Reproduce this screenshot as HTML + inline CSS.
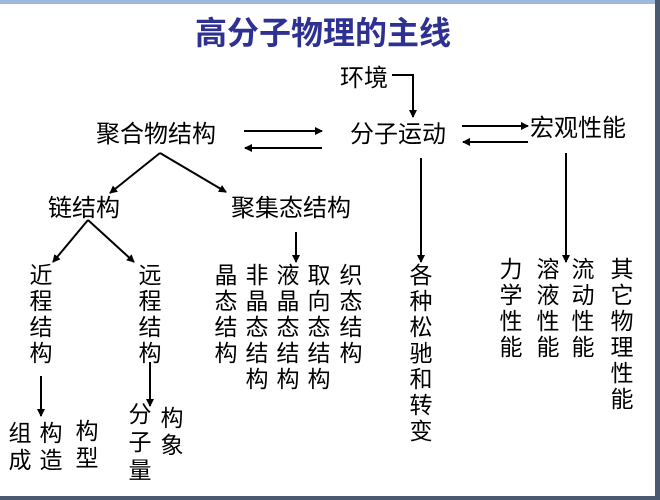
<!DOCTYPE html>
<html><head><meta charset="utf-8"><style>
body{margin:0;width:660px;height:500px;background:#fff;position:relative;overflow:hidden;font-family:"Liberation Sans","Noto Sans CJK SC","WenQuanYi Zen Hei",sans-serif;}
.t{position:absolute;font-size:24px;line-height:26px;color:#000;white-space:nowrap;}
.v{position:absolute;font-size:23px;line-height:26px;width:26px;text-align:center;color:#000;}
</style></head><body>
<div style="position:absolute;left:0;top:0;width:660px;height:4px;background:#9db8dd"></div>
<div style="position:absolute;right:0;top:0;width:5px;height:500px;background:#4a5a70"></div>
<div style="position:absolute;left:0;bottom:0;width:660px;height:4px;background:#4a5a70"></div>
<div style="position:absolute;left:0;top:13px;width:646px;text-align:center;font-size:32px;font-weight:bold;color:#2e3192;line-height:40px">高分子物理的主线</div>
<div class="t" style="left:340px;top:66px">环境</div>
<div class="t" style="left:96px;top:122px">聚合物结构</div>
<div class="t" style="left:350px;top:122px">分子运动</div>
<div class="t" style="left:530px;top:116px">宏观性能</div>
<div class="t" style="left:48px;top:196px">链结构</div>
<div class="t" style="left:231px;top:196px">聚集态结构</div>
<div class="v" style="left:28px;top:262px">近<br>程<br>结<br>构</div>
<div class="v" style="left:137px;top:262px">远<br>程<br>结<br>构</div>
<div class="v" style="left:213px;top:262px">晶<br>态<br>结<br>构</div>
<div class="v" style="left:244px;top:262px">非<br>晶<br>态<br>结<br>构</div>
<div class="v" style="left:275px;top:262px">液<br>晶<br>态<br>结<br>构</div>
<div class="v" style="left:306px;top:262px">取<br>向<br>态<br>结<br>构</div>
<div class="v" style="left:338px;top:262px">织<br>态<br>结<br>构</div>
<div class="v" style="left:408px;top:262px">各<br>种<br>松<br>驰<br>和<br>转<br>变</div>
<div class="v" style="left:498px;top:256px">力<br>学<br>性<br>能</div>
<div class="v" style="left:535px;top:256px">溶<br>液<br>性<br>能</div>
<div class="v" style="left:570px;top:256px">流<br>动<br>性<br>能</div>
<div class="v" style="left:609px;top:256px">其<br>它<br>物<br>理<br>性<br>能</div>
<div class="v" style="left:7px;top:420px;line-height:27px">组<br>成</div>
<div class="v" style="left:38px;top:420px;line-height:27px">构<br>造</div>
<div class="v" style="left:74px;top:418px;line-height:27px">构<br>型</div>
<div class="v" style="left:127px;top:400px;line-height:28px">分<br>子<br>量</div>
<div class="v" style="left:159px;top:405px;line-height:27px">构<br>象</div>
<svg width="660" height="500" style="position:absolute;left:0;top:0">
<defs><marker id="a" markerWidth="8" markerHeight="8" refX="7" refY="4" orient="auto" markerUnits="userSpaceOnUse"><path d="M0,0 L8,4 L0,8 z" fill="#000"/></marker></defs>
<g stroke="#000" stroke-width="2" fill="none" marker-end="url(#a)">
<polyline points="392,75 413,75 413,117"/>
<line x1="244" y1="131" x2="322" y2="131"/>
<line x1="322" y1="148" x2="245" y2="148"/>
<line x1="462" y1="126" x2="528" y2="126"/>
<line x1="528" y1="142" x2="463" y2="142"/>
<line x1="160" y1="153" x2="110" y2="193"/>
<line x1="160" y1="153" x2="226" y2="192"/>
<line x1="88" y1="220" x2="53" y2="262"/>
<line x1="88" y1="220" x2="134" y2="262"/>
<line x1="296" y1="232" x2="296" y2="262"/>
<line x1="421" y1="158" x2="421" y2="262"/>
<line x1="566" y1="153" x2="566" y2="262"/>
<line x1="41" y1="376" x2="41" y2="416"/>
<line x1="150" y1="362" x2="150" y2="406"/>
</g></svg>
</body></html>
